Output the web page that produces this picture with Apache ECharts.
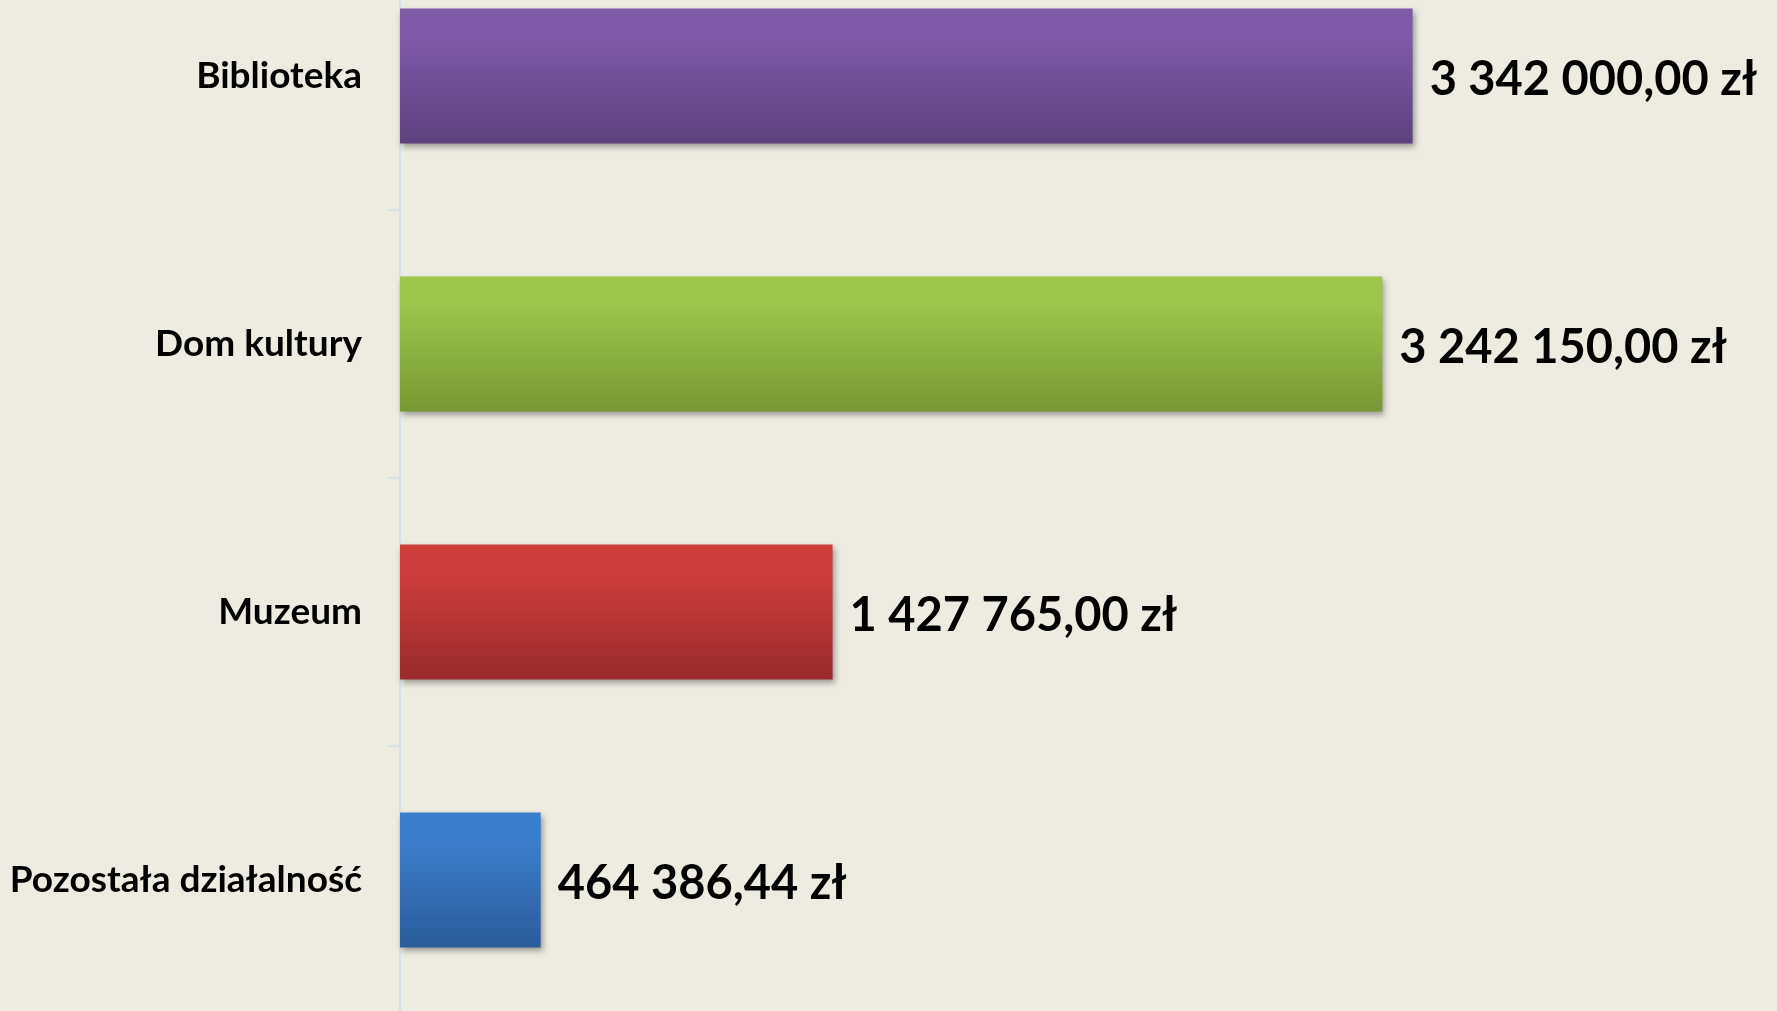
<!DOCTYPE html>
<html>
<head>
<meta charset="utf-8">
<script src="https://cdn.jsdelivr.net/npm/echarts@6/dist/echarts.min.js"></script>
<style>
  html, body { margin: 0; padding: 0; background: #eeece1; }
  #chart { width: 1777px; height: 1011px; }
</style>
</head>
<body>
<div id="chart"></div>
<script>
const categories = ["Biblioteka", "Dom kultury", "Muzeum", "Pozostała działalność"];
const values = [3342000, 3242150, 1427765, 464386.44];
const topColors = ["#7f5aa9", "#9dc64b", "#cf3e3b", "#3b7ecd"];
const bottomColors = ["#5d417d", "#769834", "#992a2b", "#2b5c9a"];

function formatZl(v) {
  const parts = v.toFixed(2).split(".");
  const whole = parts[0].replace(/\B(?=(\d{3})+(?!\d))/g, " ");
  return whole + "," + parts[1] + " zł";
}

const chart = echarts.init(document.getElementById("chart"));
chart.setOption({
  backgroundColor: "#eeece1",
  animation: false,
  grid: { left: 400, top: -58, width: 1212, height: 1072, outerBoundsMode: "none" },
  xAxis: { type: "value", min: 0, max: 4000000, show: false },
  yAxis: {
    type: "category",
    inverse: true,
    data: categories,
    axisLine: { show: true, lineStyle: { color: "#d6e1ee", width: 2 } },
    axisTick: { show: true, length: 12, lineStyle: { color: "#d6e1ee", width: 2 } },
    axisLabel: {
      margin: 38,
      color: "#000",
      fontFamily: "Lato",
      fontWeight: "bold",
      fontSize: 37
    }
  },
  series: [{
    type: "bar",
    barWidth: 135,
    data: values.map((v, i) => ({
      value: v,
      itemStyle: {
        color: new echarts.graphic.LinearGradient(0, 0, 0, 1, [
          { offset: 0, color: topColors[i] },
          { offset: 0.2, color: topColors[i] },
          { offset: 1, color: bottomColors[i] }
        ]),
        shadowColor: "rgba(0,0,0,0.35)",
        shadowBlur: 6,
        shadowOffsetX: 2,
        shadowOffsetY: 3
      }
    })),
    label: {
      show: true,
      position: "right",
      distance: 17,
      offset: [0, 4],
      color: "#000",
      fontFamily: "Lato",
      fontWeight: "bold",
      fontSize: 47,
      formatter: p => formatZl(p.value)
    }
  }]
});
</script>
</body>
</html>
